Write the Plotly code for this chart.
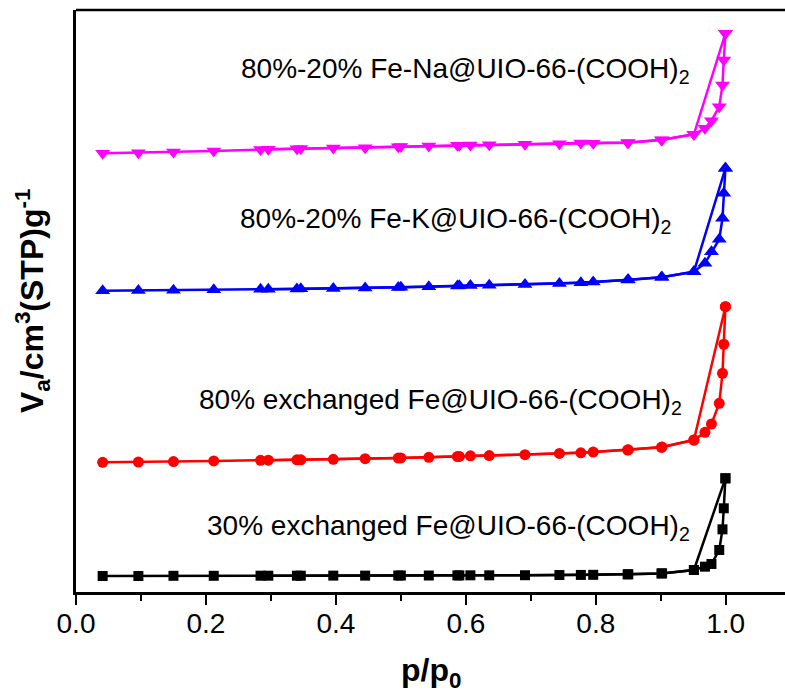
import plotly.graph_objects as go

# Relative pressure points (p/p0) shared by the four isotherms
p_ads = [0.041, 0.096, 0.150, 0.212, 0.284, 0.340, 0.396, 0.445, 0.496, 0.543,
         0.587, 0.636, 0.691, 0.744, 0.796, 0.849, 0.901, 0.951, 0.968, 0.978,
         0.990, 0.995, 0.997, 0.9995]
p_des = [0.9995, 0.951, 0.902, 0.850, 0.777, 0.607, 0.590, 0.500, 0.346, 0.296]

# Adsorbed volume (stacked with vertical offsets, arbitrary units)
v_ads_30 = [16.5, 16.5, 16.7, 16.7, 16.8, 16.8, 16.9, 16.9, 17.0, 17.0,
            17.1, 17.2, 17.3, 17.5, 17.7, 18.2, 19.1, 22.7, 26.1, 28.9,
            43.3, 64.6, 86.3, 117.2]
v_des_30 = [117.2, 22.7, 19.2, 18.3, 17.6, 17.2, 17.1, 17.0, 16.8, 16.8]

v_ads_80 = [133.7, 134.0, 134.5, 135.1, 135.8, 136.3, 136.8, 137.5, 138.1, 138.9,
            139.7, 140.7, 141.6, 142.8, 144.3, 146.4, 149.2, 156.7, 164.6, 173.2,
            194.5, 225.5, 255.4, 294.1]
v_des_80 = [294.1, 156.7, 149.4, 146.6, 143.5, 140.4, 139.8, 138.2, 136.3, 135.9]

v_ads_k = [310.6, 310.8, 311.1, 311.5, 312.1, 312.5, 312.9, 313.4, 314.0, 314.6,
           315.5, 316.2, 317.0, 318.0, 319.6, 321.6, 324.4, 330.2, 338.9, 350.8,
           363.6, 385.3, 411.0, 436.8]
v_des_k = [436.8, 330.2, 324.6, 321.8, 318.8, 316.0, 315.6, 314.1, 312.6, 312.2]

v_ads_na = [452.3, 452.9, 453.6, 454.6, 456.2, 457.0, 457.7, 458.0, 459.1, 459.8,
            460.5, 461.0, 461.5, 462.1, 462.6, 463.2, 466.0, 471.9, 478.0, 485.9,
            500.3, 522.7, 548.5, 576.0]
v_des_na = [576.0, 471.9, 466.2, 463.4, 462.8, 460.8, 460.6, 459.2, 457.1, 456.4]

labels = [
    "30% exchanged Fe@UIO-66-(COOH)<sub>2</sub>",
    "80% exchanged Fe@UIO-66-(COOH)<sub>2</sub>",
    "80%-20% Fe-K@UIO-66-(COOH)<sub>2</sub>",
    "80%-20% Fe-Na@UIO-66-(COOH)<sub>2</sub>",
]
label_x = [0.199, 0.186, 0.249, 0.251]
label_y = [66.5, 196.2, 383.5, 538.0]

x_ticks = [0.0, 0.2, 0.4, 0.6, 0.8, 1.0]

FONT = "Arial, Liberation Sans, sans-serif"

series = [
    (v_ads_30, v_des_30, "#000000", "square", 10),
    (v_ads_80, v_des_80, "#FF0000", "circle", 11),
    (v_ads_k, v_des_k, "#0000FF", "triangle-up", 13),
    (v_ads_na, v_des_na, "#FF00FF", "triangle-down", 13),
]

fig = go.Figure()
for v_ads, v_des, color, symbol, size in series:
    fig.add_trace(go.Scatter(
        x=p_ads, y=v_ads, mode="lines+markers",
        line=dict(color=color, width=2.5),
        marker=dict(symbol=symbol, size=size, color=color),
        showlegend=False, hoverinfo="skip"))
    fig.add_trace(go.Scatter(
        x=p_des, y=v_des, mode="lines+markers",
        line=dict(color=color, width=2.5),
        marker=dict(symbol=symbol, size=size, color=color),
        showlegend=False, hoverinfo="skip"))

for text, lx, ly in zip(labels, label_x, label_y):
    fig.add_annotation(x=lx, y=ly, xref="x", yref="y", text=text,
                       showarrow=False, xanchor="left", yanchor="middle",
                       font=dict(family=FONT, size=28, color="#000000"))

# axis titles
fig.add_annotation(x=-0.062, y=0.5, xref="paper", yref="paper",
                   text="<b>V<sub>a</sub>/cm<sup>3</sup>(STP)g<sup>-1</sup></b>",
                   textangle=-90, showarrow=False, xanchor="center", yanchor="middle",
                   font=dict(family=FONT, size=32, color="#000000"))
fig.add_annotation(x=0.5, y=-0.139, xref="paper", yref="paper",
                   text="<b>p/p<sub>0</sub></b>",
                   showarrow=False, xanchor="center", yanchor="middle",
                   font=dict(family=FONT, size=32, color="#000000"))

# top frame line
fig.add_shape(type="line", xref="paper", yref="paper", x0=0, x1=1, y0=1, y1=1,
              line=dict(color="#000000", width=2.5))

fig.update_xaxes(
    range=[0, 1.0912], tickvals=x_ticks, ticktext=[f"{t:.1f}" for t in x_ticks],
    ticks="outside", ticklen=10, tickwidth=2, tickcolor="#000000",
    ticklabelstandoff=-5,
    minor=dict(ticks="outside", ticklen=6, tickwidth=2, tickcolor="#000000",
               tickvals=[0.1, 0.3, 0.5, 0.7, 0.9]),
    showline=True, linecolor="#000000", linewidth=2.5,
    showgrid=False, zeroline=False,
    tickfont=dict(family=FONT, size=28, color="#000000"))
fig.update_yaxes(
    range=[0, 600], showticklabels=False, ticks="",
    showline=True, linecolor="#000000", linewidth=2.5,
    showgrid=False, zeroline=False)

fig.update_layout(
    width=785, height=694,
    margin=dict(l=76, r=0, t=10, b=102),
    paper_bgcolor="#FFFFFF", plot_bgcolor="#FFFFFF",
)

fig.write_html("out.html")
